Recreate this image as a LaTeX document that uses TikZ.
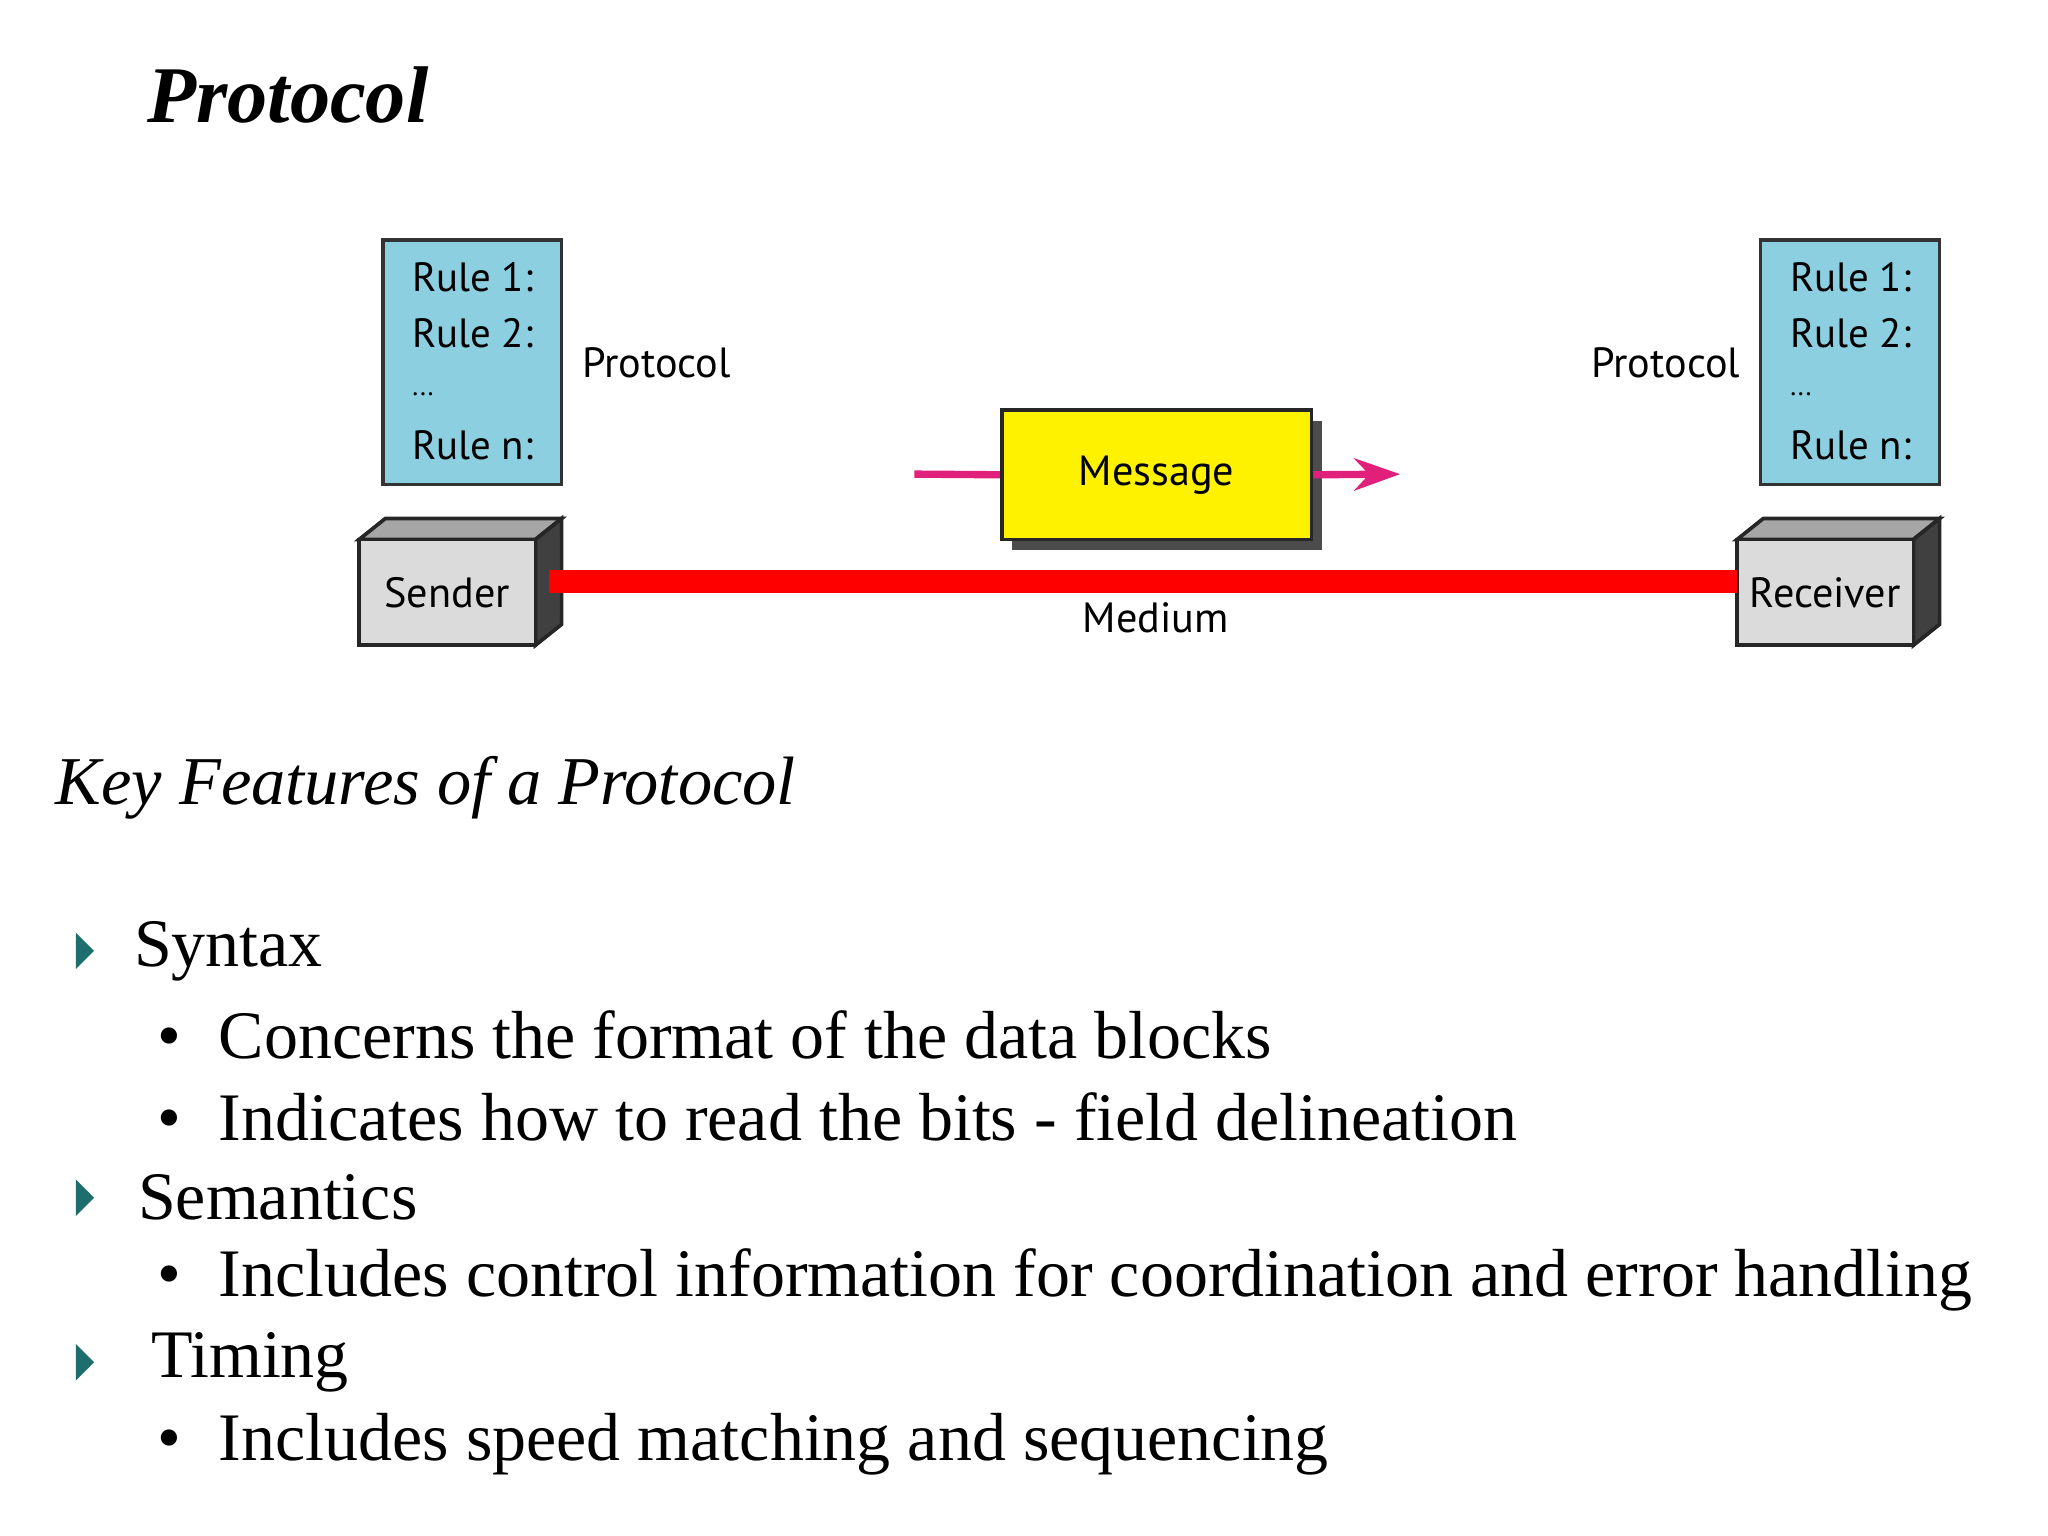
\documentclass[tikz,border=0pt]{standalone}
\usepackage{fontspec}
\setmainfont{Liberation Serif}
\newfontfamily\dsans{PT Sans}
\usetikzlibrary{arrows.meta}
\definecolor{rulebg}{HTML}{8CCFE0}
\definecolor{teal1}{HTML}{1F6E6E}
\definecolor{mag}{HTML}{E0207A}
\begin{document}
\begin{tikzpicture}[x=0.01cm,y=-0.01cm,
  lbl/.style={font=\dsans\fontsize{9.2}{11}\selectfont,inner sep=0pt},
  rlbl/.style={font=\dsans\fontsize{8.9}{11}\selectfont,inner sep=0pt,anchor=west},
  rulebox/.style={draw=black!80,fill=rulebg,line width=0.8pt},
  body/.style={font=\fontsize{14.8}{17}\selectfont,anchor=west,inner sep=0pt}]
\useasboundingbox (0,0) rectangle (1568,1176);
\fill[white] (0,0) rectangle (1568,1176);
\node[anchor=west,inner sep=0pt,font=\bfseries\itshape\fontsize{17.5}{20}\selectfont] (title) at (112,73) {Protocol};
% rule boxes
\draw[rulebox] (293,184) rectangle (430,371);
\draw[rulebox] (1348,184) rectangle (1485,371);
\foreach \x/\n in {315/L,1370/R}{
 \node[rlbl] (r1\n) at (\x,212) {Rule 1:};
 \node[rlbl] (r2\n) at (\x,255) {Rule 2:};
 \node[rlbl,font=\dsans\fontsize{6}{7}\selectfont] (rd\n) at (\x,302) {...};
 \node[rlbl] (rn\n) at (\x,341) {Rule n:};
}
\node[lbl,anchor=west] (pL) at (445,278) {Protocol};
\node[lbl,anchor=east] (pR) at (1333,278) {Protocol};
% boxes 3D
\foreach \x/\n/\t in {275/snd/Sender,1330/rcv/Receiver}{
 \draw[black!85,line width=0.8pt,fill=black!35] (\x,413) -- (\x+20,397) -- (\x+155,397) -- (\x+135,413) -- cycle;
 \draw[black!85,line width=0.8pt,fill=black!75] (\x+135,413) -- (\x+155,397) -- (\x+155,478) -- (\x+135,494) -- cycle;
 \draw[black!85,line width=0.8pt,fill=black!14] (\x,413) rectangle (\x+135,494);
 \node[lbl] (\n) at (\x+67.5,454) {\t};
}
\coordinate (mS) at (420,445); \coordinate (mR) at (1330,445);
\draw[red,line width=5pt] (mS) -- (mR);
\node[lbl] (med) at (885,473) {Medium};
% message
\fill[black!70] (775,322) rectangle (1012,421);
\node[draw=black!85,line width=0.8pt,fill=yellow,inner sep=0pt,
  lbl,minimum width=2.37cm,minimum height=0.99cm] (msg) at (885.5,363.5) {Message};
\coordinate (inA) at (700,363); \coordinate (outA) at (1072,363);
\draw[mag,line width=1.6pt] (inA) -- (msg.west);
\draw[mag,line width=1.6pt,-{Stealth[length=10pt,width=7pt]}] (msg.east) -- (outA);
% text
\node[anchor=west,inner sep=0pt,font=\itshape\fontsize{14.9}{17}\selectfont] (kf) at (42,603) {Key Features of a Protocol};
\foreach \y in {728,917,1043}{\fill[teal1] (58,\y-14) -- (72,\y) -- (58,\y+14) -- cycle;}
\node[body] (syn) at (102,728) {Syntax};
\node[body] (b1) at (120,792) {•\hspace{0.55em}Concerns the format of the data blocks};
\node[body] (b2) at (120,855) {•\hspace{0.55em}Indicates how to read the bits - field delineation};
\node[body] (sem) at (105,917) {Semantics};
\node[body] (b3) at (120,980) {•\hspace{0.55em}Includes control information for coordination and error handling};
\node[body] (tim) at (115,1043) {Timing};
\node[body] (b4) at (120,1106) {•\hspace{0.55em}Includes speed matching and sequencing};
\end{tikzpicture}
\end{document}
